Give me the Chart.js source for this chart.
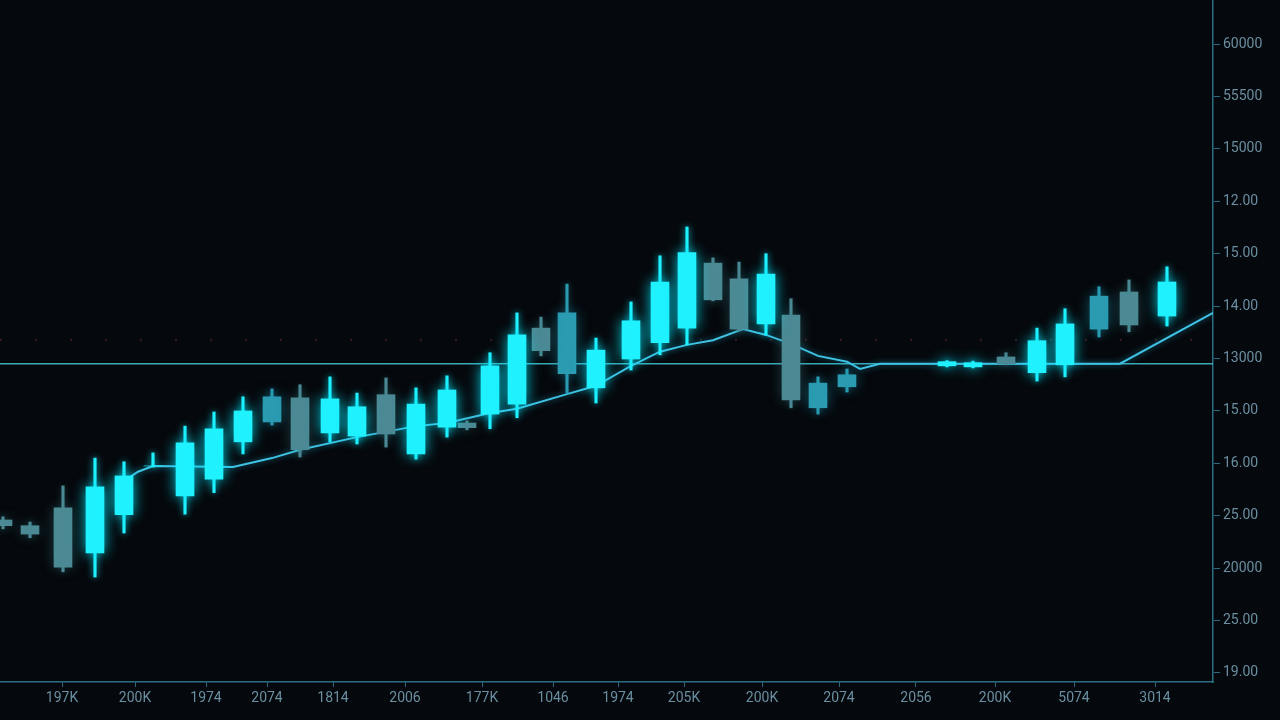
<!DOCTYPE html>
<html>
<head>
<meta charset="utf-8">
<title>Velas</title>
<script src="https://cdn.jsdelivr.net/npm/chart.js@4.4.1/dist/chart.umd.min.js"></script>
<style>
    html, body { margin: 0; padding: 0; background: #05080c; }
    #box { width: 1280px; height: 720px; position: relative; }
</style>
</head>
<body>
<div id="box"><canvas id="grafico-velas"></canvas></div>
<script>
// posicao de cada vela no eixo x (sessoes)
var _posicoes = [0.3, 3.0, 6.3, 9.5, 12.4, 15.3, 18.5, 21.4, 24.3, 27.2,
    30.0, 33.0, 35.7, 38.6, 41.6, 44.7, 46.7, 49.0, 51.7, 54.1,
    56.7, 59.6, 63.1, 66.0, 68.7, 71.3, 73.9, 76.6, 79.1, 81.8,
    84.7, 94.7, 97.3, 100.6, 103.7, 106.5, 109.9, 112.9, 116.7];
var _abertura = [2.92, 2.81, 3.15, 2.29, 3.02, 3.95, 3.38, 3.70, 4.41, 5.27,
    5.25, 4.58, 4.52, 5.31, 4.18, 4.69, 4.77, 4.94, 5.13, 6.58,
    6.87, 5.44, 5.99, 6.30, 6.58, 7.82, 7.52, 6.66, 6.83, 5.53,
    5.46, 5.86, 5.84, 6.03, 5.73, 5.88, 7.19, 7.27, 6.81];
var _maxima = [2.98, 2.88, 3.57, 4.10, 4.03, 4.20, 4.71, 4.98, 5.27, 5.42,
    5.50, 5.65, 5.34, 5.63, 5.44, 5.67, 4.81, 6.11, 6.87, 6.79,
    7.42, 6.39, 7.08, 7.96, 8.51, 7.92, 7.84, 8.00, 7.14, 5.65,
    5.80, 5.96, 5.95, 6.11, 6.58, 6.95, 7.37, 7.50, 7.75];
var _minima = [2.75, 2.58, 1.93, 1.83, 2.67, 3.93, 3.03, 3.44, 4.18, 4.73,
    4.12, 4.41, 4.37, 4.31, 4.08, 4.50, 4.64, 4.66, 4.87, 6.05,
    5.34, 5.15, 5.78, 6.07, 6.26, 7.10, 6.53, 6.45, 5.06, 4.94,
    5.36, 5.84, 5.82, 5.88, 5.57, 5.65, 6.41, 6.51, 6.62];
var _fechamento = [2.81, 2.65, 2.02, 3.55, 3.76, 3.95, 4.39, 4.66, 5.00, 4.79,
    4.26, 5.23, 5.08, 4.56, 5.13, 5.40, 4.68, 5.86, 6.45, 6.15,
    5.71, 6.16, 6.72, 7.46, 8.02, 7.12, 6.56, 7.61, 5.21, 5.06,
    5.69, 5.94, 5.92, 5.90, 6.34, 6.66, 6.56, 6.64, 7.46];
// tipo da vela: alta, baixa, fraca
var _tipo = ['baixa', 'baixa', 'baixa', 'alta', 'alta', 'alta', 'alta', 'alta', 'alta', 'fraca',
    'baixa', 'alta', 'alta', 'baixa', 'alta', 'alta', 'baixa', 'alta', 'alta', 'baixa',
    'fraca', 'alta', 'alta', 'alta', 'alta', 'baixa', 'baixa', 'alta', 'baixa', 'fraca',
    'fraca', 'alta', 'alta', 'baixa', 'alta', 'alta', 'fraca', 'baixa', 'alta'];

// media movel
var _mediaX = [12.4, 13.8, 15.3, 23.3, 27.2, 30.0, 35.7, 41.6, 44.7, 49.0,
    51.7, 56.7, 59.6, 63.1, 66.0, 68.7, 71.3, 74.3, 76.6, 79.1,
    81.8, 84.7, 86.0, 88.0, 112.0, 121.3];
var _mediaY = [3.66, 3.84, 3.95, 3.93, 4.10, 4.26, 4.50, 4.71, 4.77, 4.96,
    5.04, 5.32, 5.48, 5.86, 6.13, 6.26, 6.35, 6.56, 6.45, 6.28,
    6.05, 5.94, 5.80, 5.90, 5.90, 6.87];

var _nivel = 5.9;
var _nivelPontilhado = 6.36;

// rotulos do eixo x
var _posRotulosX = [6.2, 13.5, 20.6, 26.7, 33.3, 40.5, 48.2, 55.3, 61.8, 68.4,
    76.2, 83.9, 91.6, 99.5, 107.4, 115.5];
var _rotulosX = ['197K', '200K', '1974', '2074', '1814', '2006', '177K', '1046', '1974', '205K',
    '200K', '2074', '2056', '200K', '5074', '3014'];

// rotulos do eixo y (de baixo pra cima)
var _posRotulosY = [0, 1, 2, 3, 4, 5, 6, 7, 8, 9, 10, 11, 12];
var _rotulosY = ['19.00', '25.00', '20000', '25.00', '16.00', '15.00', '13000', '14.00',
    '15.00', '12.00', '15000', '55500', '60000'];

var _cores = { alta: '#1ff1ff', baixa: '#4b8994', fraca: '#2a9bb1' };
var _brilhos = { alta: 'rgba(0, 235, 255, 0.85)', baixa: 'rgba(60, 140, 150, 0.4)', fraca: 'rgba(30, 160, 190, 0.5)' };

var _grafico;

window.onload = function () {
    InicializarChart();
};

// sombra/brilho em volta das velas
var pluginBrilho = {
    id: 'brilho',
    beforeDatasetDraw: function (chart, args) {
        var ctx = chart.ctx;
        var ds = chart.data.datasets[args.index];
        ctx.save();
        if (ds.brilho) {
            ctx.shadowColor = ds.brilho;
            ctx.shadowBlur = ds.brilhoTamanho || 10;
        }
    },
    afterDatasetDraw: function (chart) {
        chart.ctx.restore();
    }
};

function $each(lista, fn) {
    for (var i = 0; i < lista.length; i++) fn(i, lista[i]);
}

function montaVelas() {
    var _datasets = [];

    ['alta', 'baixa', 'fraca'].forEach(function (tipo) {
        var _corpos = [];
        var _pavios = [];

        $each(_posicoes, function (idx, x) {
            if (_tipo[idx] != tipo) return;
            _corpos.push({ x: x, y: [_abertura[idx], _fechamento[idx]] });
            _pavios.push({ x: x, y: [_minima[idx], _maxima[idx]] });
        });

        _datasets.push({
            type: 'bar',
            label: 'corpo ' + tipo,
            data: _corpos,
            backgroundColor: _cores[tipo],
            barThickness: 18,
            grouped: false,
            order: 0,
            brilho: _brilhos[tipo],
            brilhoTamanho: 14
        });
        _datasets.push({
            type: 'bar',
            label: 'pavio ' + tipo,
            data: _pavios,
            backgroundColor: _cores[tipo],
            barThickness: 2.5,
            grouped: false,
            order: 1,
            brilho: _brilhos[tipo],
            brilhoTamanho: 7
        });
    });

    return _datasets;
}

function InicializarChart() {
    var _media = [];
    $each(_mediaX, function (idx, x) {
        _media.push({ x: x, y: _mediaY[idx] });
    });

    var _datasets = montaVelas();

    _datasets.push({
        type: 'line',
        label: 'media',
        data: _media,
        borderColor: '#3fc3e4',
        borderWidth: 2,
        pointRadius: 0,
        tension: 0,
        order: 2,
        brilho: 'rgba(40, 190, 230, 0.6)',
        brilhoTamanho: 6
    });
    _datasets.push({
        type: 'line',
        label: 'nivel',
        data: [{ x: 0, y: _nivel }, { x: 121.3, y: _nivel }],
        borderColor: '#3aaab8',
        borderWidth: 1.6,
        pointRadius: 0,
        order: 3
    });
    _datasets.push({
        type: 'line',
        label: 'pontilhado',
        data: [{ x: 0, y: _nivelPontilhado }, { x: 121.3, y: _nivelPontilhado }],
        borderColor: 'rgba(95, 45, 55, 0.55)',
        borderWidth: 2,
        borderDash: [2, 33],
        pointRadius: 0,
        order: 4
    });

    _grafico = new Chart(document.getElementById('grafico-velas'), {
        type: 'bar',
        data: { datasets: _datasets },
        plugins: [pluginBrilho],
        options: {
            responsive: true,
            maintainAspectRatio: false,
            animation: false,
            layout: { padding: 0 },
            plugins: {
                legend: { display: false },
                tooltip: { enabled: false }
            },
            scales: {
                x: {
                    type: 'linear',
                    min: 0,
                    max: 121.3,
                    offset: false,
                    afterBuildTicks: function (scale) {
                        scale.ticks = _posRotulosX.map(function (v) { return { value: v }; });
                    },
                    afterFit: function (scale) {
                        scale.height = 38;
                        scale.paddingLeft = 0;
                        scale.paddingRight = 0;
                    },
                    grid: { offset: false, drawOnChartArea: false, drawTicks: true, tickLength: 5, color: '#2a6a7c' },
                    border: { color: '#2b6e82', width: 1.5 },
                    ticks: {
                        autoSkip: false,
                        maxRotation: 0,
                        padding: 3,
                        color: '#6a8fa1',
                        font: { family: 'Roboto', size: 14 },
                        callback: function (value, index) { return _rotulosX[index]; }
                    }
                },
                y: {
                    type: 'linear',
                    position: 'right',
                    min: -0.172,
                    max: 12.84,
                    afterBuildTicks: function (scale) {
                        scale.ticks = _posRotulosY.map(function (v) { return { value: v }; });
                    },
                    afterFit: function (scale) {
                        scale.width = 67;
                        scale.paddingTop = 0;
                        scale.paddingBottom = 0;
                    },
                    grid: { drawOnChartArea: false, drawTicks: true, tickLength: 7, color: '#2a6a7c' },
                    border: { color: '#2b6e82', width: 1.5 },
                    ticks: {
                        padding: 3,
                        color: '#6a8fa1',
                        font: { family: 'Roboto', size: 14 },
                        callback: function (value, index) { return _rotulosY[index]; }
                    }
                }
            }
        }
    });
}
</script>
</body>
</html>
